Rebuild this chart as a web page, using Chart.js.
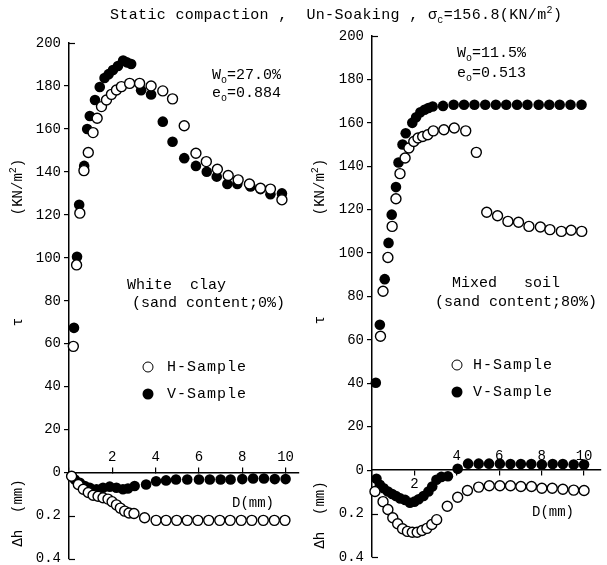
<!DOCTYPE html>
<html>
<head>
<meta charset="utf-8">
<script src="https://cdn.jsdelivr.net/npm/chart.js@4.4.0/dist/chart.umd.min.js"></script>
<style>
  body { margin: 0; background: #fff; }
  #wrap { position: relative; width: 607px; height: 565px; overflow: hidden;
          font-family: "Liberation Mono", "DejaVu Sans Mono", monospace; color: #000; }
  canvas { position: absolute; top: 0; }
  .t { position: absolute; font-size: 14px; white-space: pre; line-height: 1; transform: translate(0, -50%); }
  .ttl { font-size: 15px; letter-spacing: 0.35px; }
  .a { font-size: 15px; }
  .lg { font-size: 15px; letter-spacing: 1px; }
  .r { transform: translate(-50%, -50%) rotate(-90deg); }
  .dot { position: absolute; width: 11px; height: 11px; border-radius: 50%; box-sizing: border-box;
         transform: translate(-50%, -50%); }
  .open { border: 1.5px solid #000; background: #fff; }
  .full { background: #000; }
  sub, sup { font-size: 10px; line-height: 0; }
</style>
</head>
<body>
<div id="wrap">
  <canvas id="clay" width="305" height="565" style="left:0"></canvas>
  <canvas id="mixed" width="302" height="565" style="left:305px"></canvas>

  <div class="t ttl" style="left:110px; top:15px">Static compaction ,  Un-Soaking , σ<sub>c</sub>=156.8(KN/m<sup>2</sup>)</div>

  <div class="t a" style="left:212px; top:75px">W<sub>o</sub>=27.0%</div>
  <div class="t a" style="left:212px; top:93px">e<sub>o</sub>=0.884</div>
  <div class="t a" style="left:127px; top:285px">White  clay</div>
  <div class="t a" style="left:132px; top:303px">(sand content;0%)</div>
  <div class="dot open" style="left:148px; top:367px"></div>
  <div class="t lg" style="left:167px; top:367px">H-Sample</div>
  <div class="dot full" style="left:148px; top:394px"></div>
  <div class="t lg" style="left:167px; top:394px">V-Sample</div>
  <div class="t" style="left:232px; top:503px">D(mm)</div>
  <div class="t r" style="left:18px; top:187px">(KN/m<sup>2</sup>)</div>
  <div class="t r" style="left:18px; top:322px">τ</div>
  <div class="t r" style="left:18px; top:513px">Δh  (mm)</div>

  <div class="t a" style="left:457px; top:53px">W<sub>o</sub>=11.5%</div>
  <div class="t a" style="left:457px; top:73px">e<sub>o</sub>=0.513</div>
  <div class="t a" style="left:452px; top:283px">Mixed   soil</div>
  <div class="t a" style="left:435px; top:302px">(sand content;80%)</div>
  <div class="dot open" style="left:457px; top:365px"></div>
  <div class="t lg" style="left:473px; top:365px">H-Sample</div>
  <div class="dot full" style="left:457px; top:392px"></div>
  <div class="t lg" style="left:473px; top:392px">V-Sample</div>
  <div class="t" style="left:532px; top:512px">D(mm)</div>
  <div class="t r" style="left:320px; top:187px">(KN/m<sup>2</sup>)</div>
  <div class="t r" style="left:320px; top:320px">τ</div>
  <div class="t r" style="left:320px; top:515px">Δh  (mm)</div>
</div>

<script>
// [D (mm), tau (kN/m2)]
const clayTauH = [[0.2,58.8],[0.35,96.7],[0.5,120.8],[0.69,140.6],[0.89,149],[1.11,158.3],[1.3,165],
  [1.5,170.4],[1.73,173.5],[1.96,176.1],[2.19,178.1],[2.42,179.7],[2.8,181.2],[3.26,181.2],[3.79,180],
  [4.33,177.7],[4.78,174],[5.32,161.5],[5.86,148.7],[6.34,144.8],[6.85,141.2],[7.35,138.3],[7.81,136.3],
  [8.33,134.4],[8.84,132.4],[9.3,132],[9.83,127]];
const clayTauV = [[0.23,67.4],[0.37,100.5],[0.47,124.7],[0.7,142.8],[0.84,160],[0.96,166],[1.2,173.5],
  [1.42,179.5],[1.64,183.7],[1.83,185.5],[2.03,187.4],[2.26,189.3],[2.5,191.8],[2.67,191],[2.87,190.2],
  [3.33,178],[3.79,176],[4.33,163.4],[4.78,154],[5.32,146.4],[5.86,142.8],[6.36,140.1],[6.82,137.8],
  [7.31,134.4],[7.77,134.4],[8.38,133.2],[8.84,132],[9.3,129.6],[9.83,130]];
// [D (mm), settlement dh (mm)]
const clayDhH = [[0.12,0.017],[0.43,0.055],[0.66,0.077],[0.89,0.092],[1.11,0.105],[1.34,0.11],[1.57,0.117],
  [1.8,0.123],[1.99,0.135],[2.19,0.15],[2.37,0.165],[2.57,0.179],[2.77,0.188],[3.0,0.19],[3.49,0.21],
  [4.02,0.222],[4.48,0.222],[4.97,0.222],[5.46,0.222],[5.95,0.222],[6.45,0.222],[6.96,0.222],[7.44,0.222],
  [7.95,0.222],[8.44,0.222],[8.97,0.222],[9.48,0.222],[9.97,0.222]];
const clayDhV = [[0.12,0.017],[0.27,0.032],[0.5,0.047],[0.73,0.062],[0.96,0.07],[1.27,0.077],[1.57,0.07],
  [1.88,0.065],[2.19,0.07],[2.49,0.077],[2.72,0.074],[3.03,0.062],[3.56,0.055],[4.02,0.04],[4.48,0.036],
  [4.94,0.032],[5.46,0.032],[6.0,0.032],[6.5,0.032],[7.0,0.032],[7.46,0.032],[8.0,0.03],[8.5,0.027],
  [9.0,0.027],[9.5,0.03],[10.0,0.03]];

const mixTauH = [[0.4,61.7],[0.52,82.4],[0.75,98],[0.95,112.3],[1.13,125],[1.32,136.6],[1.56,143.8],
  [1.74,148.4],[1.97,151.4],[2.17,153],[2.39,153.7],[2.63,154.5],[2.89,156.3],[3.39,156.8],[3.88,157.6],
  [4.42,156.3],[4.92,146.4],[5.41,118.8],[5.92,117.2],[6.41,114.6],[6.91,114.2],[7.4,112.3],[7.94,112],
  [8.39,110.8],[8.93,110],[9.39,110.5],[9.89,110]];
const mixTauV = [[0.18,40.3],[0.37,67],[0.6,88],[0.78,104.7],[0.93,117.7],[1.13,130.4],[1.25,141.7],
  [1.44,150],[1.59,155.2],[1.9,160],[2.08,162.6],[2.28,164.9],[2.48,166],[2.66,166.8],[2.86,167.5],
  [3.35,167.8],[3.85,168.3],[4.34,168.3],[4.83,168.3],[5.34,168.3],[5.84,168.3],[6.33,168.3],[6.84,168.3],
  [7.33,168.3],[7.86,168.3],[8.36,168.3],[8.85,168.3],[9.36,168.3],[9.88,168.3]];
const mixDhH = [[0.14,0.098],[0.52,0.145],[0.75,0.181],[0.98,0.219],[1.21,0.247],[1.44,0.27],[1.67,0.282],
  [1.9,0.286],[2.13,0.286],[2.36,0.278],[2.59,0.268],[2.82,0.25],[3.05,0.228],[3.55,0.166],[4.04,0.125],
  [4.5,0.094],[5.03,0.078],[5.53,0.072],[6.03,0.072],[6.53,0.072],[7.02,0.075],[7.52,0.075],[8.01,0.083],
  [8.5,0.083],[9.0,0.088],[9.51,0.092],[10.0,0.094]];
const mixDhV = [[0.21,0.04],[0.37,0.067],[0.55,0.083],[0.75,0.098],[0.95,0.11],[1.13,0.119],[1.33,0.13],
  [1.56,0.137],[1.79,0.15],[2.0,0.145],[2.2,0.134],[2.43,0.119],[2.66,0.098],[2.84,0.075],[3.04,0.044],
  [3.27,0.031],[3.58,0.028],[4.04,-0.006],[4.53,-0.03],[5.03,-0.03],[5.52,-0.03],[6.03,-0.03],
  [6.53,-0.028],[7.02,-0.028],[7.51,-0.028],[8.01,-0.026],[8.52,-0.028],[9.0,-0.028],[9.51,-0.026],[10.0,-0.026]];

const yTicksTau = [0, 20, 40, 60, 80, 100, 120, 140, 160, 180, 200];
const yTicksDh = [0.2, 0.4];
const xTicks = [2, 4, 6, 8, 10];

// 0.2 mm of dh is drawn over the same height as 20 kN/m2 of tau (axis below 0)
const DH_SCALE = 100;

const tickFont = { family: 'Liberation Mono', size: 14, lineHeight: 1 };

function openSet(rows) {
  return { data: rows, pointRadius: 5, backgroundColor: '#fff', borderColor: '#000',
           borderWidth: 1.4, clip: false };
}
function fullSet(rows) {
  return { data: rows, pointRadius: 5.3, backgroundColor: '#000', borderColor: '#000',
           borderWidth: 0, clip: false };
}
const tau = rows => rows.map(([d, v]) => ({ x: d, y: v }));
const dh = rows => rows.map(([d, v]) => ({ x: d, y: -v * DH_SCALE }));

// ticks at the top (200) and on the dh part point into the plot
const inward = v => v === 200 || v < 0;
const innerTicks = {
  id: 'innerTicks',
  afterDraw(chart) {
    const s = chart.scales.y, ctx = chart.ctx;
    ctx.save();
    ctx.strokeStyle = '#000';
    ctx.lineWidth = 1.2;
    s.ticks.filter(t => inward(t.value)).forEach(t => {
      const y = Math.round(s.getPixelForValue(t.value)) + 0.5;
      ctx.beginPath();
      ctx.moveTo(s.right, y);
      ctx.lineTo(s.right + 6, y);
      ctx.stroke();
    });
    ctx.restore();
  }
};

function panel(id, axisWidth, xMax, pad, xTickLen, xPad, xLabel) {
  return (sets) => new Chart(document.getElementById(id), {
    type: 'scatter',
    data: { datasets: sets },
    plugins: [innerTicks],
    options: {
      responsive: false,
      animation: false,
      layout: { padding: pad },
      plugins: { legend: { display: false }, tooltip: { enabled: false } },
      scales: {
        x: {
          type: 'linear', min: 0, max: xMax, position: { y: 0 },
          afterBuildTicks: s => { s.ticks = [{ value: 0 }].concat(xTicks.map(v => ({ value: v }))); },
          afterFit: s => { s.paddingTop = 0; s.paddingBottom = 0; },
          border: { color: '#000', width: 1.5 },
          grid: { drawOnChartArea: false, tickLength: xTickLen, color: '#000', lineWidth: 1.2 },
          ticks: { padding: xPad, color: '#000', font: tickFont, maxRotation: 0, autoSkip: false,
                   callback: xLabel }
        },
        y: {
          type: 'linear', min: -40, max: 200,
          afterFit: s => { s.width = axisWidth; s.paddingTop = 0; s.paddingBottom = 0; },
          afterBuildTicks: s => {
            s.ticks = yTicksDh.slice().reverse().map(v => ({ value: -v * DH_SCALE }))
              .concat(yTicksTau.map(v => ({ value: v })));
          },
          border: { color: '#000', width: 1.5 },
          grid: { drawOnChartArea: false, tickLength: 5, lineWidth: 1.2, color: '#000',
                  tickColor: c => inward(c.tick.value) ? 'rgba(0,0,0,0)' : '#000' },
          ticks: { padding: 3, color: '#000', font: tickFont,
                   callback: v => v >= 0 ? String(v) : (-v / DH_SCALE).toFixed(1) }
        }
      }
    }
  });
}

// left panel: x labels sit above the axis with short upward ticks
panel('clay', 69, 10.6, { top: 43, bottom: 6, left: 0, right: 5 }, -6, -16,
  v => v === 0 ? '' : String(v))
  ([openSet(tau(clayTauH)), openSet(dh(clayDhH)), fullSet(tau(clayTauV)), fullSet(dh(clayDhV))]);

// right panel: ticks hang below the axis, the "2" label is pushed under the line
panel('mixed', 67, 10.78, { top: 36, bottom: 8, left: 0, right: 0 }, 5, -26,
  v => v === 0 ? '' : (v === 2 ? ['', '', '2'] : String(v)))
  ([openSet(tau(mixTauH)), openSet(dh(mixDhH)), fullSet(tau(mixTauV)), fullSet(dh(mixDhV))]);
</script>
</body>
</html>
